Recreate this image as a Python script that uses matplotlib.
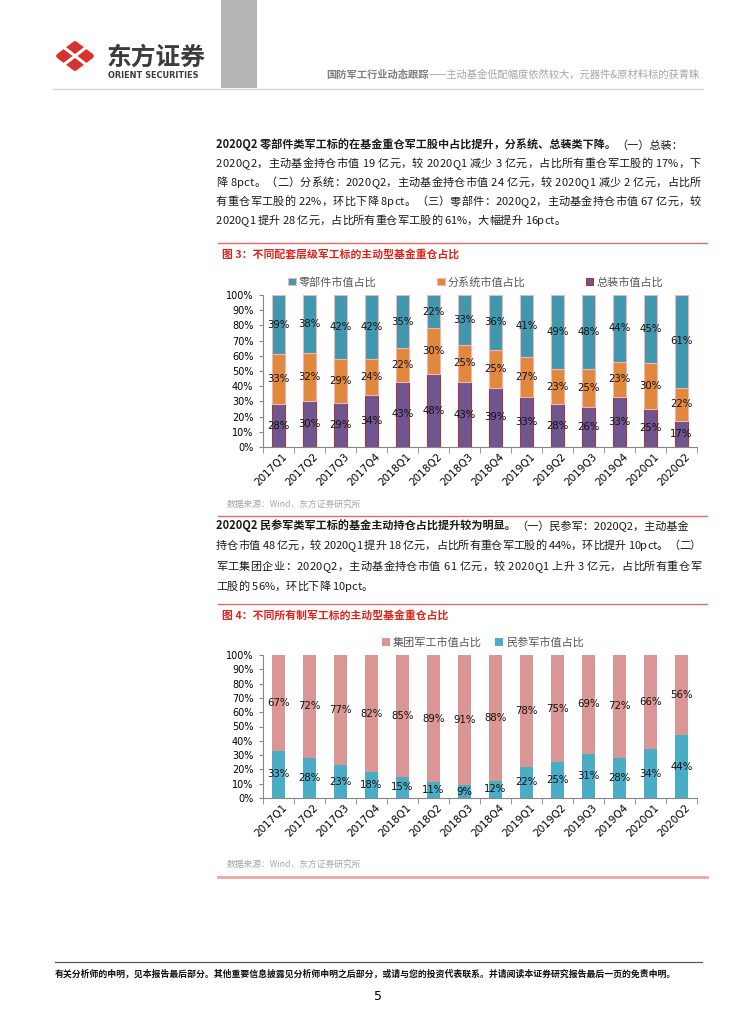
import numpy as np
import matplotlib
matplotlib.use('Agg')
import matplotlib.pyplot as plt
from matplotlib.patches import Polygon, Rectangle
from matplotlib.font_manager import FontProperties
from matplotlib.ticker import PercentFormatter
import matplotlib.transforms as mtransforms

plt.rcParams['font.family'] = ['Noto Sans CJK SC', 'DejaVu Sans']

# 数据
quarters = ['2017Q1', '2017Q2', '2017Q3', '2017Q4', '2018Q1', '2018Q2', '2018Q3',
            '2018Q4', '2019Q1', '2019Q2', '2019Q3', '2019Q4', '2020Q1', '2020Q2']
zongzhuang = [28, 30, 29, 34, 43, 48, 43, 39, 33, 28, 26, 33, 25, 17]
fenxitong = [33, 32, 29, 24, 22, 30, 25, 25, 27, 23, 25, 23, 30, 22]
lingbujian = [39, 38, 42, 42, 35, 22, 33, 36, 41, 49, 48, 44, 45, 61]
minshenjun = [33, 28, 23, 18, 15, 11, 9, 12, 22, 25, 31, 28, 34, 44]
jituan = [67, 72, 77, 82, 85, 89, 91, 88, 78, 75, 69, 72, 66, 56]

names1 = ['总装市值占比', '分系统市值占比', '零部件市值占比']
colors1 = ['#6f5690', '#e0883b', '#3f98ae']
edges1 = ['#a23a3a', '#f2b4b4', '#f2b4b4']
names2 = ['民参军市值占比', '集团军工市值占比']
colors2 = ['#4bacc6', '#d99694']

header_bold = '国防军工行业动态跟踪'
header_rest = '——主动基金低配幅度依然较大，元器件&原材料标的获青睐'
title1 = '图 3：不同配套层级军工标的主动型基金重仓占比'
title2 = '图 4：不同所有制军工标的主动型基金重仓占比'
source = '数据来源：Wind，东方证券研究所'
footer = '有关分析师的申明，见本报告最后部分。其他重要信息披露见分析师申明之后部分，或请与您的投资代表联系。并请阅读本证券研究报告最后一页的免责申明。'

para1 = [
    [('2020Q2 零部件类军工标的在基金重仓军工股中占比提升，分系统、总装类下降。', 'bold'), ('（一）总装：', 'normal')],
    [('2020Q2，主动基金持仓市值 19 亿元，较 2020Q1 减少 3 亿元，占比所有重仓军工股的 17%，下', 'normal')],
    [('降 8pct。（二）分系统：2020Q2，主动基金持仓市值 24 亿元，较 2020Q1 减少 2 亿元，占比所', 'normal')],
    [('有重仓军工股的 22%，环比下降 8pct。（三）零部件：2020Q2，主动基金持仓市值 67 亿元，较', 'normal')],
    [('2020Q1 提升 28 亿元，占比所有重仓军工股的 61%，大幅提升 16pct。', 'normal')],
]
para2 = [
    [('2020Q2 民参军类军工标的基金主动持仓占比提升较为明显。', 'bold'), ('（一）民参军：2020Q2，主动基金', 'normal')],
    [('持仓市值 48 亿元，较 2020Q1 提升 18 亿元，占比所有重仓军工股的 44%，环比提升 10pct。（二）', 'normal')],
    [('军工集团企业：2020Q2，主动基金持仓市值 61 亿元，较 2020Q1 上升 3 亿元，占比所有重仓军', 'normal')],
    [('工股的 56%，环比下降 10pct。', 'normal')],
]

W, H = 754, 1024
fig = plt.figure(figsize=(W / 100, H / 100), dpi=100)
page = fig.add_axes([0, 0, 1, 1])
page.set_xlim(0, W)
page.set_ylim(H, 0)
page.axis('off')
renderer = fig.canvas.get_renderer()
FAM = ['Noto Sans CJK SC', 'DejaVu Sans']

# 页眉
red = '#d7332c'
cx, cy = 75, 56
page.add_patch(Polygon([(cx - 16.5, cy), (cx, cy - 12.5), (cx + 16.5, cy), (cx, cy + 12.5)], closed=True,
                       facecolor=red, edgecolor=red, lw=3.5, joinstyle='round'))
page.plot([cx - 11, cx + 11], [cy - 8.5, cy + 8.5], color='white', lw=2.2, solid_capstyle='butt')
page.plot([cx + 11, cx - 11], [cy - 8.5, cy + 8.5], color='white', lw=2.2, solid_capstyle='butt')
page.text(107, 58, '东方证券', fontsize=17.8, weight='bold', color='#3c3c3c', va='center', ha='left')
page.text(108, 76, 'ORIENT SECURITIES', fontsize=5.9, weight='bold', color='#3c3c3c',
          family='DejaVu Sans', va='center', ha='left')
page.add_patch(Rectangle((221, 0), 36, 88, color='#b5b5b5', lw=0))
page.plot([53, 703], [89, 89], color='#d9d9d9', lw=1)
t = page.text(326, 75, header_bold, fontsize=7.4, color='#7f7f7f', weight='bold', va='center')
page.annotate(header_rest, xy=(1, 0), xycoords=t, va='bottom', ha='left', fontsize=7.4, color='#a6a6a6')


def ink_w(s, prop):
    w, h, d = renderer.get_text_width_height_descent(s, prop, ismath=False)
    return w


def body_line(x0, y, parts, right=None, size=8):
    reg = FontProperties(family=FAM, size=size)
    if len(parts) > 1:
        # 粗体开头的行：按自然宽度排，不拉伸
        line = ''.join(s for s, _ in parts)
        t = page.text(x0, y, parts[0][0], fontsize=size, weight=parts[0][1], color='#1a1a1a', va='baseline')
        idx = len(parts[0][0])
        for s, wgt in parts[1:]:
            gap = (ink_w(line[:idx + 1], reg) - ink_w(line[idx], reg)) - ink_w(line[:idx], reg)
            t = page.annotate(s, xy=(1, 0), xycoords=t, xytext=(gap * 0.72, 0), textcoords='offset points',
                              va='bottom', ha='left', fontsize=size, weight=wgt, color='#1a1a1a')
            idx += len(s)
        return
    line = parts[0][0]
    extra = 0
    if right is not None:
        extra = (right - x0 - ink_w(line, reg)) / (len(line) - 1)
    # 两端对齐：多余空间平均分到每个字之间
    for i, c in enumerate(line):
        if c == ' ':
            continue
        page.text(x0 + ink_w(line[:i + 1], reg) + i * extra, y, c, ha='right', va='baseline',
                  fontsize=size, color='#1a1a1a')


for k, (parts, yc) in enumerate(zip(para1, [144, 163, 182, 201, 220])):
    body_line(216, yc + 4, parts, right=None if k == len(para1) - 1 else 701)
for k, (parts, yc) in enumerate(zip(para2, [525, 545, 566, 586])):
    body_line(216, yc + 4, parts, right=None if k == len(para2) - 1 else 701)

# 分隔线、标题、来源
for yl in [243, 516, 604]:
    page.plot([218, 707], [yl, yl], color='#e9676a', lw=1)
page.plot([218, 707], [877, 877], color='#f0a3a3', lw=2)
page.text(222, 255, title1, color='#e2231a', weight='bold', fontsize=7.8, va='center')
page.text(222, 615, title2, color='#e2231a', weight='bold', fontsize=7.8, va='center')
page.text(227, 504, source, fontsize=6.3, color='#a6a6a6', va='center')
page.text(227, 864, source, fontsize=6.3, color='#a6a6a6', va='center')

# 页脚
page.plot([55, 702], [962, 962], color='#595959', lw=0.9)
page.text(55, 974, footer, fontsize=6.4, weight='bold', va='center', color='#111111')
page.text(378, 996, '5', fontsize=9, ha='center', va='center', family='DejaVu Sans')


def stacked(ax, series, names, colors, edges, legend_x, colspace):
    x = np.arange(len(quarters))
    arr = np.array(series, dtype=float)
    frac = arr / arr.sum(axis=0)
    bottom = np.zeros(len(quarters))
    for vals, f, name, c, e in zip(arr, frac, names, colors, edges):
        ax.bar(x, f, 0.42, bottom=bottom, color=c, edgecolor=e, linewidth=0.8, label=name)
        for xi, bi, fi, v in zip(x, bottom, f, vals):
            ax.text(xi, bi + fi / 2, f'{v:.0f}%', ha='center', va='center', fontsize=7.3,
                    family='DejaVu Sans', color='#111111')
        bottom += f
    ax.set_xlim(-0.5, len(quarters) - 0.5)
    ax.set_ylim(0, 1)
    ax.set_facecolor('none')
    ax.set_yticks(np.arange(0, 1.01, 0.1))
    ax.yaxis.set_major_formatter(PercentFormatter(1.0, decimals=0))
    for s in ['top', 'right']:
        ax.spines[s].set_visible(False)
    for s in ['left', 'bottom']:
        ax.spines[s].set_color('#868686')
        ax.spines[s].set_linewidth(0.8)
    ax.tick_params(axis='y', length=3, color='#868686', labelsize=7, pad=4)
    ax.set_xticks(x)
    ax.set_xticklabels(quarters, rotation=45, ha='right', va='center', rotation_mode='anchor', fontsize=7.5)
    ax.tick_params(axis='x', which='major', length=0, pad=6)
    ax.set_xticks(np.arange(-0.5, len(quarters), 1), minor=True)
    ax.tick_params(axis='x', which='minor', length=4, color='#868686')
    for lab in ax.get_yticklabels() + ax.get_xticklabels():
        lab.set_family('DejaVu Sans')
    off = mtransforms.ScaledTranslation(7 / 100, 0, fig.dpi_scale_trans)
    for lab in ax.get_xticklabels():
        lab.set_transform(lab.get_transform() + off)
    h, l = ax.get_legend_handles_labels()
    ax.legend(h[::-1], l[::-1], loc='center', bbox_to_anchor=(legend_x, 1.085), ncol=len(names),
              frameon=False, fontsize=8, handlelength=0.7, handleheight=0.7, handletextpad=0.3,
              columnspacing=colspace, labelcolor='#595959', borderpad=0)


ax1 = fig.add_axes([263 / W, 1 - 447 / H, 434 / W, 152 / H])
stacked(ax1, [zongzhuang, fenxitong, lingbujian], names1, colors1, edges1, 0.49, 5.4)
ax2 = fig.add_axes([263 / W, 1 - 798 / H, 434 / W, 143 / H])
stacked(ax2, [minshenjun, jituan], names2, colors2, ['none', 'none'], 0.507, 1.2)

fig.savefig('out.png', dpi=100)
